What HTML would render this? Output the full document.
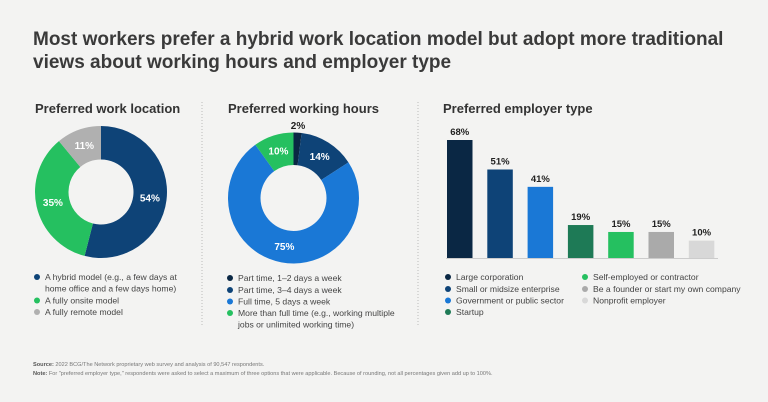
<!DOCTYPE html>
<html><head><meta charset="utf-8"><style>
body{margin:0;background:#f3f3f2;}
svg{display:block;font-family:"Liberation Sans",sans-serif;}
</style></head><body>
<svg id="c" width="768" height="402" viewBox="0 0 768 402" xmlns="http://www.w3.org/2000/svg">
<rect width="768" height="402" fill="#f3f3f2"/>
<text x="33" y="45" font-size="19" font-weight="bold" fill="#3a3a3a">Most workers prefer a hybrid work location model but adopt more traditional</text>
<text x="33" y="68" font-size="19" font-weight="bold" fill="#3a3a3a">views about working hours and employer type</text>
<line x1="202" y1="102" x2="202" y2="325" stroke="#bbb" stroke-dasharray="1,2"/>
<line x1="418" y1="102" x2="418" y2="325" stroke="#bbb" stroke-dasharray="1,2"/>
<text x="35" y="113" font-size="13" font-weight="bold" fill="#333">Preferred work location</text>
<text x="228" y="113" font-size="13" font-weight="bold" fill="#333">Preferred working hours</text>
<text x="443" y="113" font-size="13" font-weight="bold" fill="#333">Preferred employer type</text>
<g id="d1"></g><g id="d2"></g><g id="bars"></g><g id="legends"></g>
<line x1="446" y1="258.5" x2="718" y2="258.5" stroke="#ccc"/>
<text x="33" y="366" font-size="5.6" fill="#777"><tspan font-weight="bold" fill="#555">Source:</tspan> 2022 BCG/The Network proprietary web survey and analysis of 90,547 respondents.</text>
<text x="33" y="375" font-size="5.6" fill="#777"><tspan font-weight="bold" fill="#555">Note:</tspan> For "preferred employer type," respondents were asked to select a maximum of three options that were applicable. Because of rounding, not all percentages given add up to 100%.</text>
</svg>
<script>
const locLabels=["A hybrid model (e.g., a few days at|home office and a few days home)","A fully onsite model","A fully remote model"];
const locValues=[54,35,11];
const locColors=["#0e4377","#25c060","#b0b0b0"];
const hrsLabels=["Part time, 1–2 days a week","Part time, 3–4 days a week","Full time, 5 days a week","More than full time (e.g., working multiple|jobs or unlimited working time)"];
const hrsValues=[2,14,75,10];
const hrsColors=["#0a2744","#0e4377","#1a78d6","#25c060"];
const empLabels=["Large corporation","Small or midsize enterprise","Government or public sector","Startup","Self-employed or contractor","Be a founder or start my own company","Nonprofit employer"];
const empValues=[68,51,41,19,15,15,10];
const empColors=["#0a2744","#0e4377","#1a78d6","#1e7a56","#25c060","#aaaaaa","#d8d8d8"];
const NS="http://www.w3.org/2000/svg";
function mk(t,a,p){const e=document.createElementNS(NS,t);for(const k in a)e.setAttribute(k,a[k]);p.appendChild(e);return e;}
function donut(g,cx,cy,R,r,vals,cols,name){
  const tot=vals.reduce((a,b)=>a+b,0);let a0=0;
  vals.forEach((v,i)=>{
    const a1=a0+v/tot*2*Math.PI;
    const p=(a,rr)=>[cx+rr*Math.sin(a),cy-rr*Math.cos(a)];
    const [x1,y1]=p(a0,R),[x2,y2]=p(a1,R),[x3,y3]=p(a1,r),[x4,y4]=p(a0,r);
    const lg=(a1-a0)>Math.PI?1:0;
    const s=mk('path',{d:`M${x1},${y1}A${R},${R} 0 ${lg} 1 ${x2},${y2}L${x3},${y3}A${r},${r} 0 ${lg} 0 ${x4},${y4}Z`,fill:cols[i]},g);
    
    
    const am=(a0+a1)/2;let [tx,ty]=p(am,(R+r)/2);let col='#fff';
    if(v<5){[tx,ty]=p(am,R+7);col='#222';}
    const t=mk('text',{x:tx,y:ty+3.5,'text-anchor':'middle','font-size':10,'font-weight':'bold',fill:col},g);
    t.textContent=v+'%';
    
    
    a0=a1;
  });
}
donut(document.getElementById('d1'),101,192,66,32.5,locValues,locColors,'location');
donut(document.getElementById('d2'),293.5,198,65.5,33,hrsValues,hrsColors,'hours');
const bg=document.getElementById('bars');
const base=258,scale=118/68,x0=447,step=40.3,bw=25.5;
empValues.forEach((v,i)=>{
  const h=v*scale,x=x0+i*step;
  const b=mk('rect',{x:x,y:base-h,width:bw,height:h,fill:empColors[i]},bg);
  
  
  const t=mk('text',{x:x+bw/2,y:base-h-5,'text-anchor':'middle','font-size':9.5,'font-weight':'bold',fill:'#222'},bg);
  t.textContent=v+'%';
  
  
});
const lg=document.getElementById('legends');
function legend(labels,cols,x,ys,name){
  labels.forEach((l,i)=>{
    const y=ys[i];
    const c=mk('circle',{cx:x,cy:y-3,r:3,fill:cols[i]},lg);
    
    
    l.split('|').forEach((ln,j)=>{
      const t=mk('text',{x:x+8,y:y+j*11.5,'font-size':8.6,fill:'#444'},lg);
      t.textContent=ln;
      
      
    });
  });
}
legend(locLabels,locColors,37,[280,303.5,315],'location-legend');
legend(hrsLabels,hrsColors,230,[281,293,304.5,316],'hours-legend');
legend(empLabels.slice(0,4),empColors.slice(0,4),448,[280,292,303.5,315],'employer-legend');
legend(empLabels.slice(4),empColors.slice(4),585,[280,292,303.5],'employer-legend2');
</script>
</body></html>
